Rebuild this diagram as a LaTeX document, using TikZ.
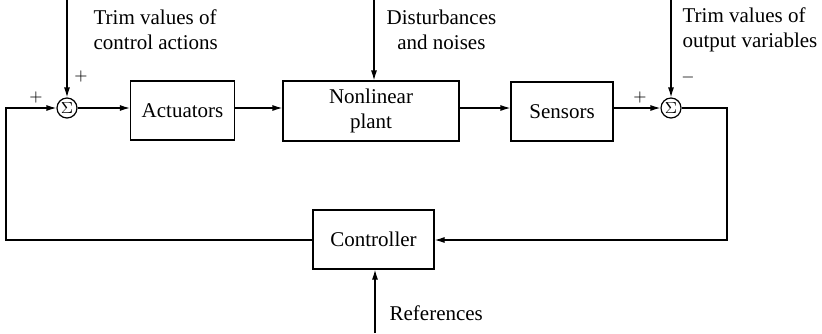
\documentclass[tikz,border=0pt]{standalone}
\usepackage{fontspec}
\setmainfont{Liberation Serif}
\usetikzlibrary{arrows.meta}
\begin{document}
\begin{tikzpicture}[x=0.5pt,y=-0.5pt,
  line width=0.6pt,
  arr/.style={-{Latex[length=5pt,width=3pt]}},
  blk/.style={draw,rectangle,inner sep=0pt,font=\fontsize{10.5}{12.5}\selectfont,align=center},
  sumn/.style={draw,circle,minimum size=10pt,inner sep=0pt,font=\fontsize{8.5}{9}\selectfont},
  lbl/.style={font=\fontsize{10.5}{12.5}\selectfont,align=center,anchor=west,inner sep=0pt},
  sgn/.style={font=\fontsize{8}{9}\selectfont,inner sep=0pt}]
\useasboundingbox (0,0) rectangle (822,333);
% blocks
\node[blk,minimum width=52pt,minimum height=29.5pt] (act) at (182.5,110.5) {Actuators};
\node[blk,minimum width=88pt,minimum height=30pt] (plant) at (371,111) {Nonlinear\\plant};
\node[blk,minimum width=51pt,minimum height=29.5pt] (sens) at (562,111.5) {Sensors};
\node[blk,minimum width=60.5pt,minimum height=29.5pt] (ctrl) at (373.5,239.5) {Controller};
\node[sumn] (s1) at (67,108) {$\Sigma$};
\node[sumn] (s2) at (671,108) {$\Sigma$};
% input coordinates
\coordinate (in1) at (67,0);
\coordinate (in2) at (374,0);
\coordinate (in3) at (671,0);
\coordinate (ref) at (375,333);
\coordinate (lc) at (6,240);
\coordinate (lt) at (6,108);
\coordinate (rt) at (727,108);
\coordinate (rc) at (727,240);
% connectors
\draw[arr] (s1) -- (s1 -| act.west);
\draw[arr] (act.east |- s1) -- (plant.west |- s1);
\draw[arr] (plant.east |- s1) -- (sens.west |- s1);
\draw[arr] (sens.east |- s2) -- (s2);
\draw[arr] (in1) -- (s1);
\draw[arr] (in2) -- (plant.north -| in2);
\draw[arr] (in3) -- (s2);
\draw[arr] (ref) -- (ctrl.south -| ref);
\draw[arr] (ctrl.west |- lc) -- (lc) -- (lt) -- (s1);
\draw[arr] (s2) -- (rt) -- (rc) -- (ctrl.east |- rc);
% labels
\node[lbl,align=left] (t1) at (93,30) {Trim values of\\control actions};
\node[lbl] (t2) at (386,30) {Disturbances\\and noises};
\node[lbl,align=left] (t3) at (682,30) {Trim values of\\output variables};
\node[lbl] (t4) at (389,313) {References};
\node[sgn] (p1) at (36,97) {$+$};
\node[sgn] (p2) at (81,76) {$+$};
\node[sgn] (p3) at (640,97) {$+$};
\node[sgn] (m1) at (688,77) {$-$};
\end{tikzpicture}
\end{document}
